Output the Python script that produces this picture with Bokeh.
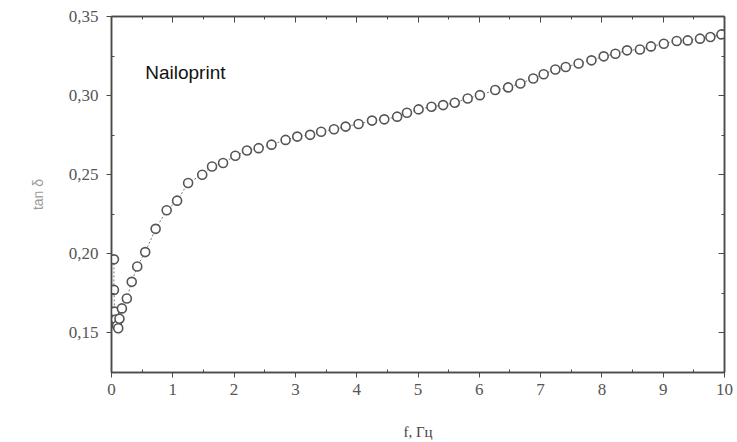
from bokeh.plotting import figure
from bokeh.models import Range1d, FixedTicker, LinearAxis, CustomJSTickFormatter, ColumnDataSource, Label
from bokeh.embed import file_html
from bokeh.resources import INLINE

# Data (frequency f, Hz vs tan delta)
freq = [0.04, 0.04, 0.05, 0.07, 0.09, 0.11, 0.13, 0.17, 0.25, 0.33, 0.42, 0.55, 0.72, 0.90,
        1.07, 1.25, 1.48, 1.64, 1.82, 2.02, 2.21, 2.40, 2.61, 2.84, 3.03, 3.24, 3.42, 3.63,
        3.82, 4.03, 4.25, 4.45, 4.66, 4.82, 5.01, 5.22, 5.41, 5.60, 5.81, 6.01, 6.26, 6.47,
        6.67, 6.88, 7.05, 7.24, 7.41, 7.62, 7.83, 8.03, 8.22, 8.41, 8.62, 8.80, 9.01, 9.22,
        9.40, 9.60, 9.77, 9.95]
tan_delta = [0.1965, 0.1772, 0.1635, 0.1585, 0.1545, 0.1530, 0.1590, 0.1655, 0.1718, 0.1823,
             0.1920, 0.2011, 0.2158, 0.2275, 0.2336, 0.2448, 0.2500, 0.2552, 0.2574, 0.2620,
             0.2653, 0.2668, 0.2690, 0.2720, 0.2741, 0.2752, 0.2772, 0.2787, 0.2804, 0.2821,
             0.2842, 0.2850, 0.2867, 0.2892, 0.2913, 0.2930, 0.2940, 0.2955, 0.2982, 0.3003,
             0.3035, 0.3052, 0.3077, 0.3108, 0.3135, 0.3165, 0.3181, 0.3203, 0.3223, 0.3248,
             0.3265, 0.3286, 0.3291, 0.3311, 0.3328, 0.3345, 0.3349, 0.3360, 0.3370, 0.3387]

x_ticks = [0, 1, 2, 3, 4, 5, 6, 7, 8, 9, 10]
x_minor = [0.5, 1.5, 2.5, 3.5, 4.5, 5.5, 6.5, 7.5, 8.5, 9.5]
y_ticks = [0.15, 0.20, 0.25, 0.30, 0.35]
y_minor = [0.125, 0.175, 0.225, 0.275, 0.325]

AX = "#4a4a4a"
TXT = "#555555"

p = figure(width=737, height=442, output_backend="svg", toolbar_location=None,
           x_range=Range1d(0, 10), y_range=Range1d(0.125, 0.35),
           min_border_left=111, min_border_right=13, min_border_top=16, min_border_bottom=69,
           x_axis_label="f, Гц", y_axis_label="tan δ")
p.grid.visible = False
p.outline_line_color = AX
p.outline_line_width = 1.5
p.background_fill_color = "white"
p.border_fill_color = "white"

fmt = CustomJSTickFormatter(code="return tick.toFixed(2).replace('.', ',');")

xa = p.xaxis[0]
xa.ticker = FixedTicker(ticks=x_ticks, minor_ticks=x_minor)
ya = p.yaxis[0]
ya.ticker = FixedTicker(ticks=y_ticks, minor_ticks=y_minor)
ya.formatter = fmt

for ax in (xa, ya):
    ax.axis_line_color = AX
    ax.axis_line_width = 1.5
    ax.major_tick_line_color = AX
    ax.minor_tick_line_color = AX
    ax.major_tick_out = 5
    ax.major_tick_in = 0
    ax.minor_tick_out = 0
    ax.minor_tick_in = 3
    ax.major_label_text_font = "Liberation Serif"
    ax.major_label_text_font_size = "17px"
    ax.major_label_text_color = TXT
    ax.major_label_standoff = 8

xa.major_label_standoff = 6
xa.axis_label_text_font = "Liberation Serif"
xa.axis_label_text_font_size = "15px"
xa.axis_label_text_font_style = "normal"
xa.axis_label_text_color = "#444444"
xa.axis_label_standoff = 26

ya.axis_label_text_font = "Liberation Sans"
ya.axis_label_text_font_size = "14px"
ya.axis_label_text_font_style = "normal"
ya.axis_label_text_color = "#9a9a9a"
ya.axis_label_standoff = 20

blank = CustomJSTickFormatter(code="return '';")
top = LinearAxis(ticker=FixedTicker(ticks=x_ticks, minor_ticks=x_minor), formatter=blank)
right = LinearAxis(ticker=FixedTicker(ticks=y_ticks, minor_ticks=y_minor), formatter=blank)
for ax in (top, right):
    ax.axis_line_color = AX
    ax.axis_line_width = 1.5
    ax.major_tick_line_color = AX
    ax.minor_tick_line_color = AX
    ax.major_tick_out = 0
    ax.major_tick_in = 6
    ax.minor_tick_out = 0
    ax.minor_tick_in = 3
    ax.major_label_standoff = 0
p.add_layout(top, "above")
p.add_layout(right, "right")

src = ColumnDataSource(data=dict(x=freq, y=tan_delta))
p.line("x", "y", source=src, line_color="#777777", line_width=1, line_dash="2 2")
p.scatter("x", "y", source=src, marker="circle", size=9, fill_color="white",
          line_color="#555555", line_width=1.6)

p.add_layout(Label(x=0.55, y=0.3148, text="Nailoprint", text_font="Liberation Sans",
                   text_font_size="19px", text_color="#111111", text_baseline="middle"))

open("out.html", "w").write(file_html(p, INLINE))
